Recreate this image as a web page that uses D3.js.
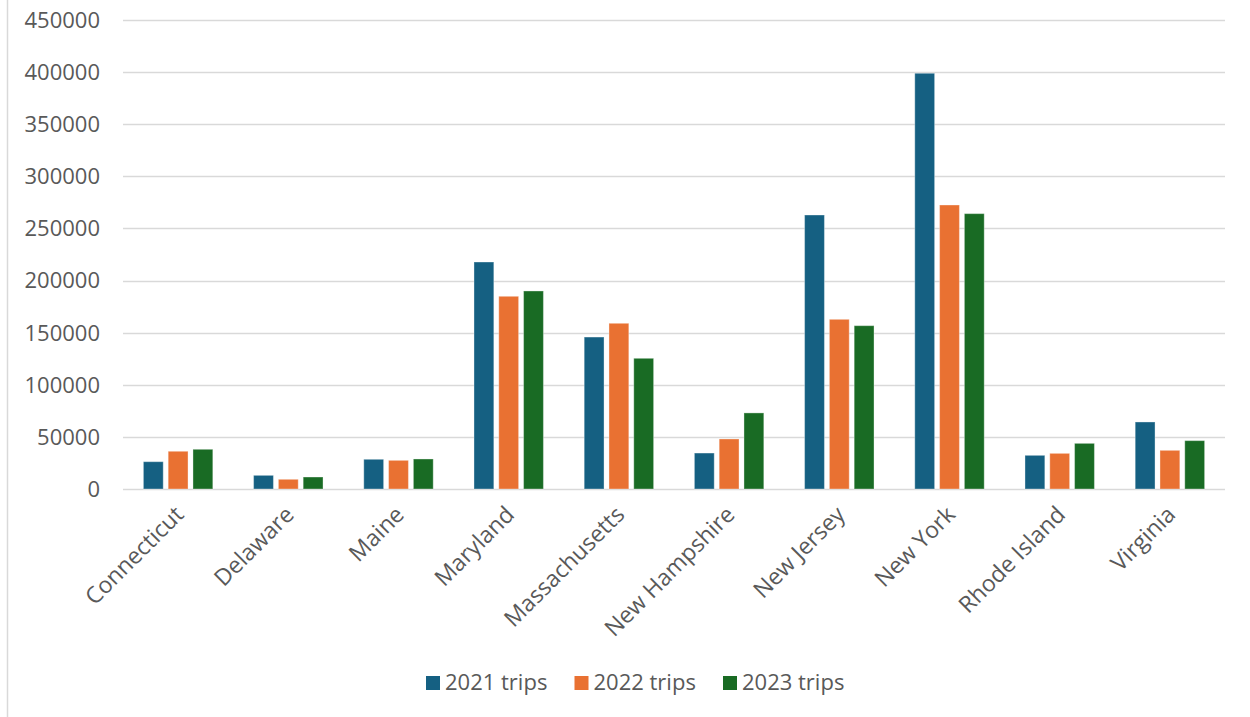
<!DOCTYPE html>
<html>
<head>
<meta charset="utf-8">
<script src="https://cdn.jsdelivr.net/npm/d3@7"></script>
<style>
  html, body { margin: 0; padding: 0; background: #ffffff; }
  svg { display: block; font-family: "Open Sans", "Liberation Sans", sans-serif; }
</style>
</head>
<body>
<svg id="chart" width="1250" height="717"></svg>
<script>
// Trips by state, 2021–2023
const states = ["Connecticut", "Delaware", "Maine", "Maryland", "Massachusetts",
  "New Hampshire", "New Jersey", "New York", "Rhode Island", "Virginia"];
const seriesNames = ["2021 trips", "2022 trips", "2023 trips"];
const trips2021 = [26200, 13100, 28500, 217800, 145800, 34500, 262900, 398900, 32300, 64300];
const trips2022 = [36200, 9300, 27500, 184900, 159000, 48000, 162800, 272500, 34200, 37100];
const trips2023 = [38100, 11500, 28800, 190000, 125400, 73000, 156700, 264200, 43800, 46400];
const yTicks = [0, 50000, 100000, 150000, 200000, 250000, 300000, 350000, 400000, 450000];
const colors = ["#156082", "#E97132", "#196B24"];

const seriesValues = [trips2021, trips2022, trips2023];

const svg = d3.select("#chart");
const plotLeft = 123, plotRight = 1225, plotTop = 20, plotBottom = 489;

// chart area border on the left
svg.append("line")
  .attr("x1", 7.5).attr("x2", 7.5).attr("y1", 0).attr("y2", 717)
  .attr("stroke", "#d9d9d9").attr("stroke-width", 1.5);

const y = d3.scaleLinear().domain([0, 450000]).range([plotBottom, plotTop]);
const x0 = d3.scaleBand().domain(states).range([plotLeft, plotRight])
  .paddingInner(0.37).paddingOuter(0.185);
const x1 = d3.scaleBand().domain(seriesNames).range([0, x0.bandwidth()]).paddingInner(0.2);

// horizontal gridlines
svg.append("g").selectAll("line").data(yTicks).join("line")
  .attr("x1", plotLeft).attr("x2", plotRight)
  .attr("y1", d => Math.round(y(d)) + 0.5).attr("y2", d => Math.round(y(d)) + 0.5)
  .attr("stroke", "#d9d9d9").attr("stroke-width", 1.5);

// y tick labels
svg.append("g").selectAll("text").data(yTicks).join("text")
  .attr("x", 100).attr("y", d => y(d))
  .attr("dy", "0.36em")
  .attr("text-anchor", "end")
  .attr("font-size", 22)
  .attr("fill", "#595959")
  .text(d => String(d));

// bars
const groups = svg.append("g").selectAll("g").data(states).join("g")
  .attr("transform", s => `translate(${x0(s)},0)`);
groups.selectAll("rect")
  .data((s, i) => seriesNames.map((n, k) => ({ name: n, value: seriesValues[k][i], k })))
  .join("rect")
  .attr("x", d => x1(d.name))
  .attr("width", x1.bandwidth())
  .attr("y", d => y(d.value))
  .attr("height", d => y(0) - y(d.value))
  .attr("fill", d => colors[d.k])
  .attr("stroke", "#ffffff").attr("stroke-opacity", 0.35).attr("stroke-width", 1);

// x category labels, rotated
svg.append("g").selectAll("text").data(states).join("text")
  .attr("transform", s => `translate(${x0(s) + x0.bandwidth() / 2 + 7},${plotBottom + 27}) rotate(-45)`)
  .attr("text-anchor", "end")
  .attr("font-size", 23)
  .attr("fill", "#595959")
  .text(s => s);

// legend
const legend = svg.append("g").attr("transform", "translate(426,676)");
const item = legend.selectAll("g").data(seriesNames).join("g")
  .attr("transform", (d, i) => `translate(${i * 148.5},0)`);
item.append("rect").attr("width", 14).attr("height", 14)
  .attr("fill", (d, i) => colors[i]);
item.append("text").attr("x", 19).attr("y", 13.5)
  .attr("font-size", 22).attr("fill", "#595959")
  .text(d => d);
</script>
</body>
</html>
